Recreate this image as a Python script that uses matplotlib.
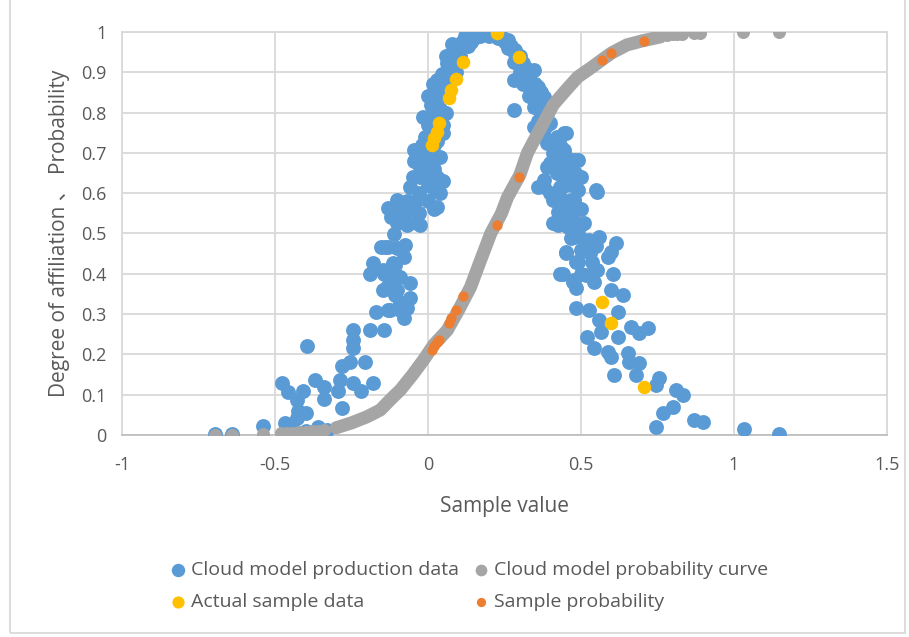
import matplotlib
matplotlib.use("Agg")
import matplotlib.pyplot as plt
from matplotlib.patches import Rectangle
from matplotlib.ticker import FuncFormatter, MultipleLocator

plt.rcParams["font.family"] = ["Open Sans", "Noto Sans CJK SC", "DejaVu Sans"]
plt.rcParams["axes.unicode_minus"] = False

# cloud drops (sample value, degree of affiliation)
blue_x = [
    -0.695, -0.64, -0.54, -0.476, -0.457, -0.407, -0.395, -0.368, -0.34, -0.34,
    -0.427, -0.424, -0.40, -0.427, -0.466, -0.36, -0.44, -0.40, -0.33,
    -0.293, -0.287, -0.28, -0.28, -0.255, -0.245, -0.245, -0.245, -0.245, -0.22,
    -0.205, -0.19, -0.18, -0.17, -0.155, -0.14, -0.18, -0.19, -0.145, -0.13,
    -0.13, -0.145, -0.133, -0.146, -0.123, -0.113, -0.10, -0.123, -0.09, -0.067,
    -0.08, -0.058, -0.09, -0.107, -0.146, -0.123, -0.107, -0.074, -0.10, -0.08,
    -0.09, -0.058, -0.13, -0.10, -0.058, -0.025,
    -0.13, -0.10, -0.08, -0.035, -0.058, -0.025, -0.047, -0.047, 0.008, 0.04,
    0.03, -0.12, -0.09, -0.07, -0.03, 0.0, 0.02, -0.01, 0.02, -0.03,
    0.0, -0.02, 0.02, 0.05,
    -0.06, -0.04, -0.05, -0.03, 0.02, -0.11, -0.07,
    -0.015, 0.008, 0.05, 0.03, 0.063, 0.096, 0.14, -0.01, 0.0, 0.02,
    0.04, 0.01, 0.0, 0.03, 0.015, 0.05, 0.045, 0.07, 0.06, 0.085,
    0.08, 0.11, 0.12, 0.105, 0.13, 0.16, 0.18,
    0.0, 0.03, 0.01, 0.04, -0.02, 0.03, 0.05, 0.06, 0.04, 0.065,
    0.08, 0.09, 0.10, 0.12, 0.14, 0.15, 0.17, 0.19, 0.20,
    0.17, 0.205, 0.22, 0.24, 0.26, 0.27, 0.285, 0.30, 0.31, 0.28,
    0.345, 0.28, 0.32, 0.30, 0.36, 0.335, 0.37, 0.378, 0.28, 0.39,
    0.345, 0.39, 0.345, 0.40, 0.31, 0.33, 0.355, 0.37, 0.36, 0.38,
    0.23, 0.25, 0.26, 0.28, 0.29, 0.30, 0.32, 0.33, 0.35, 0.35,
    0.37, 0.36, 0.38, 0.37, 0.39, 0.38, 0.40, 0.42,
    0.445, 0.45, 0.445, 0.39, 0.433, 0.477, 0.49, 0.40, 0.456, 0.39,
    0.38, 0.38, 0.36, 0.457, 0.493, 0.50, 0.433, 0.49, 0.548, 0.41,
    0.466, 0.477, 0.477, 0.424, 0.477, 0.553, 0.42, 0.46, 0.44, 0.47,
    0.41, 0.43, 0.40,
    0.41, 0.43, 0.45, 0.46, 0.48, 0.45, 0.43, 0.45, 0.46, 0.44,
    0.47, 0.50,
    0.41, 0.424, 0.466, 0.51, 0.477, 0.526, 0.45, 0.49, 0.44, 0.53,
    0.457, 0.50, 0.466, 0.51, 0.56, 0.613, 0.597, 0.587, 0.526, 0.45,
    0.483, 0.537, 0.553, 0.603, 0.477, 0.483, 0.516, 0.543, 0.597, 0.636,
    0.483, 0.526, 0.62, 0.56, 0.663, 0.72, 0.69, 0.565, 0.62, 0.52,
    0.543, 0.587, 0.597, 0.652, 0.656, 0.69, 0.607, 0.68, 0.755, 0.745,
    0.81, 0.833, 0.80, 0.767, 0.745, 0.87, 0.898, 1.033, 1.147, 0.433,
    0.473, 0.50, 0.49, 0.52, 0.55, 0.50,
]
blue_y = [
    0.003, 0.003, 0.022, 0.128, 0.107, 0.11, 0.22, 0.137, 0.12, 0.09,
    0.087, 0.06, 0.055, 0.042, 0.03, 0.02, 0.015, 0.01, 0.012,
    0.11, 0.137, 0.17, 0.067, 0.18, 0.13, 0.215, 0.235, 0.26, 0.11,
    0.18, 0.26, 0.13, 0.305, 0.466, 0.466, 0.427, 0.40, 0.40, 0.365,
    0.31, 0.26, 0.367, 0.41, 0.397, 0.427, 0.36, 0.31, 0.31, 0.315,
    0.29, 0.34, 0.33, 0.347, 0.36, 0.385, 0.422, 0.471, 0.463, 0.442,
    0.392, 0.377, 0.467, 0.526, 0.526, 0.521,
    0.563, 0.583, 0.55, 0.526, 0.615, 0.64, 0.68, 0.707, 0.69, 0.60,
    0.566, 0.54, 0.56, 0.58, 0.60, 0.58, 0.61, 0.65, 0.66, 0.67,
    0.70, 0.72, 0.72, 0.63,
    0.56, 0.58, 0.64, 0.55, 0.56, 0.50, 0.52,
    0.79, 0.765, 0.75, 0.88, 0.923, 0.963, 0.988, 0.74, 0.77, 0.79,
    0.81, 0.82, 0.84, 0.85, 0.87, 0.86, 0.895, 0.905, 0.94, 0.95,
    0.97, 0.975, 0.99, 0.94, 0.965, 0.995, 1.0,
    0.62, 0.64, 0.68, 0.69, 0.70, 0.73, 0.77, 0.80, 0.84, 0.87,
    0.92, 0.90, 0.955, 0.97, 0.975, 0.985, 0.99, 0.995, 0.99,
    1.0, 1.0, 0.995, 0.99, 0.98, 0.965, 0.955, 0.94, 0.923, 0.925,
    0.905, 0.88, 0.89, 0.90, 0.864, 0.864, 0.83, 0.839, 0.806, 0.814,
    0.814, 0.799, 0.764, 0.774, 0.87, 0.84, 0.84, 0.80, 0.78, 0.76,
    0.985, 0.975, 0.96, 0.95, 0.93, 0.915, 0.91, 0.88, 0.87, 0.85,
    0.85, 0.82, 0.82, 0.79, 0.77, 0.74, 0.73, 0.74,
    0.75, 0.749, 0.707, 0.724, 0.707, 0.682, 0.682, 0.675, 0.675, 0.665,
    0.633, 0.615, 0.615, 0.633, 0.64, 0.64, 0.615, 0.608, 0.608, 0.583,
    0.583, 0.583, 0.575, 0.553, 0.566, 0.603, 0.65, 0.66, 0.64, 0.62,
    0.70, 0.72, 0.60,
    0.68, 0.66, 0.69, 0.64, 0.65, 0.62, 0.59, 0.57, 0.55, 0.53,
    0.54, 0.56,
    0.526, 0.521, 0.516, 0.526, 0.491, 0.484, 0.451, 0.43, 0.40, 0.451,
    0.516, 0.521, 0.489, 0.484, 0.491, 0.476, 0.454, 0.442, 0.454, 0.454,
    0.43, 0.43, 0.41, 0.40, 0.385, 0.365, 0.397, 0.38, 0.36, 0.347,
    0.315, 0.31, 0.305, 0.285, 0.268, 0.265, 0.253, 0.256, 0.243, 0.243,
    0.216, 0.206, 0.194, 0.203, 0.181, 0.179, 0.149, 0.149, 0.141, 0.124,
    0.112, 0.099, 0.07, 0.055, 0.02, 0.037, 0.032, 0.015, 0.002, 0.40,
    0.38, 0.40, 0.50, 0.47, 0.47, 0.46,
]

# probability curve: continuous part and the separate dots at both ends
gray_curve_x = [-0.30, -0.25, -0.20, -0.156, -0.12, -0.09, -0.05, -0.015, 0.02, 0.063,
                0.10, 0.139, 0.17, 0.205, 0.24, 0.26, 0.30, 0.325, 0.36, 0.41,
                0.45, 0.489, 0.54, 0.57, 0.60, 0.65, 0.70, 0.76]
gray_curve_y = [0.018, 0.03, 0.045, 0.062, 0.09, 0.112, 0.15, 0.186, 0.225, 0.26,
                0.31, 0.367, 0.43, 0.50, 0.55, 0.59, 0.645, 0.70, 0.75, 0.82,
                0.855, 0.888, 0.915, 0.932, 0.948, 0.968, 0.978, 0.988]
gray_dot_x = [-0.695, -0.64, -0.54, -0.48, -0.46, -0.44, -0.42, -0.40, -0.38, -0.36,
              -0.34, 0.78, 0.80, 0.815, 0.83, 0.87, 0.89, 1.03, 1.147]
gray_dot_y = [0.001, 0.001, 0.002, 0.004, 0.005, 0.006, 0.007, 0.008, 0.01, 0.011,
              0.013, 0.992, 0.994, 0.995, 0.996, 0.997, 0.998, 0.999, 1.0]

# actual samples and their probabilities
sample_x = [0.013, 0.02, 0.03, 0.037, 0.067, 0.076, 0.093, 0.115, 0.227, 0.296,
            0.57, 0.597, 0.705]
sample_y = [0.72, 0.737, 0.752, 0.774, 0.836, 0.856, 0.883, 0.925, 0.998, 0.938,
            0.33, 0.278, 0.12]
prob_y = [0.21, 0.22, 0.23, 0.236, 0.278, 0.29, 0.31, 0.345, 0.52, 0.64,
          0.93, 0.947, 0.977]

blue = "#5B9BD5"
gray = "#A5A5A5"
yellow = "#FFC000"
orange = "#ED7D31"
txt = "#595959"
grid = "#D9D9D9"

fig = plt.figure(figsize=(9.09, 6.37), dpi=100)
ax = fig.add_axes([122 / 909, 1 - 435 / 637, 765 / 909, 403 / 637])

h_blue = ax.scatter(blue_x, blue_y, s=115, color=blue, linewidths=0, zorder=3)
ax.plot(gray_curve_x, gray_curve_y, color=gray, lw=9.4, solid_capstyle="round", zorder=4)
h_gray = ax.scatter(gray_dot_x, gray_dot_y, s=88, color=gray, linewidths=0, zorder=4)
h_yel = ax.scatter(sample_x, sample_y, s=95, color=yellow, linewidths=0, zorder=5)
h_or = ax.scatter(sample_x, prob_y, s=55, color=orange, linewidths=0, zorder=6)

ax.set_xlim(-1, 1.5)
ax.set_ylim(0, 1)
ax.xaxis.set_major_locator(MultipleLocator(0.5))
ax.yaxis.set_major_locator(MultipleLocator(0.1))
fmt = FuncFormatter(lambda v, p: "%g" % round(v, 2))
ax.xaxis.set_major_formatter(fmt)
ax.yaxis.set_major_formatter(fmt)
ax.grid(True, color=grid, lw=1.3, zorder=0)
ax.set_axisbelow(True)
for side in ["left", "right", "top"]:
    ax.spines[side].set_color(grid)
    ax.spines[side].set_linewidth(1.3)
ax.spines["bottom"].set_color("#BFBFBF")
ax.spines["bottom"].set_linewidth(1.3)
ax.tick_params(length=0, labelsize=13, labelcolor=txt)
ax.tick_params(axis="x", pad=15)
ax.tick_params(axis="y", pad=11)

ax.set_xlabel("Sample value", fontsize=15, color=txt, labelpad=16)
ax.set_ylabel("Degree of affiliation \u3001 Probability", fontsize=15, color=txt, labelpad=8)

leg = fig.legend([h_blue, h_yel, h_gray, h_or],
                 ["Cloud model production data", "Actual sample data",
                  "Cloud model probability curve", "Sample probability"],
                 ncol=2, loc="center", bbox_to_anchor=(0.514, 0.08), frameon=False,
                 fontsize=14, labelcolor=txt, handletextpad=0.1, columnspacing=0.5,
                 labelspacing=0.75, scatterpoints=1, markerscale=0.9,
                 handlelength=1.2)

fig.patches.append(Rectangle((10 / 909, 4 / 637), 895 / 909, 640 / 637,
                             transform=fig.transFigure, fill=False,
                             edgecolor=grid, lw=1.3))

fig.savefig("out.png", dpi=100)
